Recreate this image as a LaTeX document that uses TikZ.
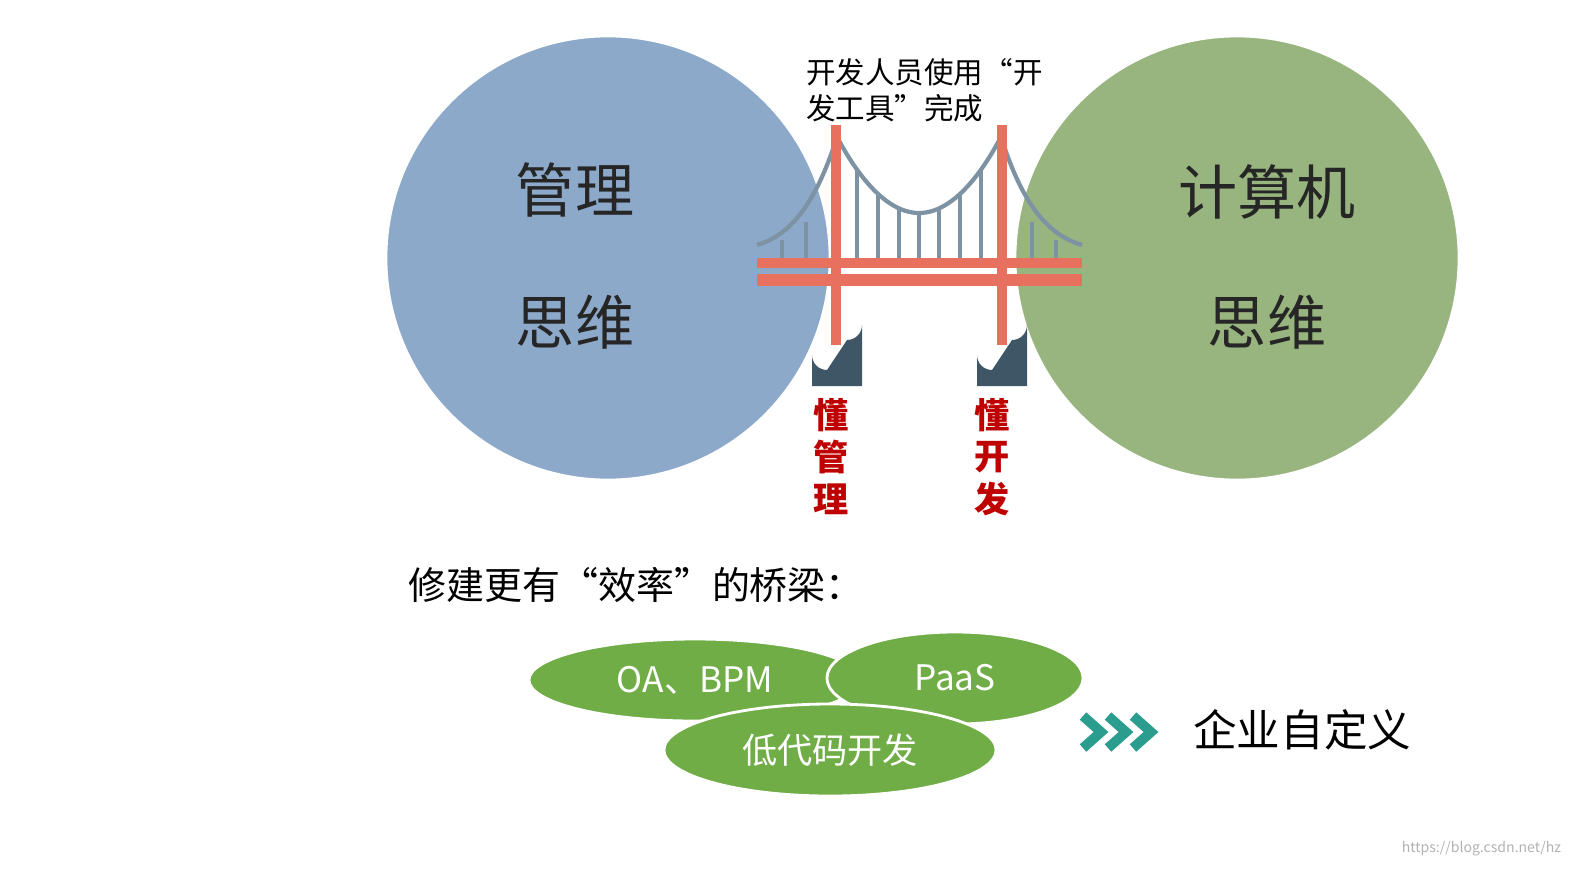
\documentclass[tikz,border=0pt]{standalone}
\usepackage{fontspec}
\setmainfont{Noto Sans CJK SC}
\usetikzlibrary{shapes.geometric,positioning}
\definecolor{mgtblue}{HTML}{8CA9CA}
\definecolor{cmpgreen}{HTML}{98B57F}
\definecolor{towerred}{HTML}{E8705F}
\definecolor{cablegray}{HTML}{7D92A2}
\definecolor{pierdark}{HTML}{3F5667}
\definecolor{leafgreen}{HTML}{70AD47}
\definecolor{chevteal}{HTML}{2A9D8F}
\tikzset{
  bigcircle/.style={circle,draw=white,line width=2pt,minimum size=11.1cm,inner sep=0pt},
  bigtext/.style={font=\fontsize{42}{46}\selectfont,text=black!85},
  leaf/.style={ellipse,draw=white,line width=2pt,fill=leafgreen,text=white,
    font=\fontsize{25}{28}\selectfont},
  vtext/.style={text=red!75!black,font=\bfseries\fontsize{25}{28}\selectfont,
    inner sep=0pt},
  cable/.style={draw=cablegray,line width=3pt},
  tower/.style={draw=towerred,line width=7pt}
}
\begin{document}
\begin{tikzpicture}[x=0.025cm,y=-0.025cm]
\useasboundingbox (0,0) rectangle (1576,871);

% circles
\node[bigcircle,fill=mgtblue] (mgt) at (608,258) {};
\node[bigcircle,fill=cmpgreen] (cmp) at (1237,258) {};
\node[bigtext] (mgt-a) at (575,190) {管理};
\node[bigtext] (mgt-b) at (575,322) {思维};
\node[bigtext] (cmp-a) at (1267,192) {计算机};
\node[bigtext] (cmp-b) at (1267,322) {思维};

% bridge
\draw[cable] (836,135) parabola bend (919,213) (1002,135);
\draw[cable] (836,140) .. controls (815,205) and (790,235) .. (757,245);
\draw[cable] (1002,140) .. controls (1023,205) and (1048,235) .. (1082,245);
\foreach \x in {857,878,899,919,939,960,981}{
  \pgfmathsetmacro\yy{213-((\x-919)/83)^2*78}
  \draw[cable] (\x,\yy) -- (\x,263);
}
\foreach \x/\y in {782/240,806/222,1032/222,1056/240}
  \draw[cable] (\x,\y) -- (\x,263);
\draw[tower] (757,263) -- (1082,263);
\draw[draw=towerred,line width=9pt] (757,280) -- (1082,280);
\draw[tower] (836,125) -- (836,345);
\draw[tower] (1002,125) -- (1002,345);
\fill[pierdark] (812,386) -- (812,355) arc (180:90:15) -- (847,340) arc (90:0:15) -- (862,386) -- cycle;
\fill[pierdark] (977,386) -- (977,355) arc (180:90:15) -- (1012,340) arc (90:0:15) -- (1027,386) -- cycle;

\node[anchor=north west,align=left,font=\fontsize{21}{26}\selectfont,inner sep=0pt] (tool)
  at (806,58) {开发人员使用“开\\发工具”完成};
\node[vtext] (mgt-1) at (831,415) {懂};
\node[vtext] (mgt-2) at (831,457) {管};
\node[vtext] (mgt-3) at (831,499) {理};
\node[vtext] (dev-1) at (992,415) {懂};
\node[vtext] (dev-2) at (992,457) {开};
\node[vtext] (dev-3) at (992,499) {发};

% bottom part
\node[anchor=west,font=\fontsize{27}{30}\selectfont,inner sep=0pt] (title) at (408,585) {修建更有“效率”的桥梁：};
\node[leaf,minimum width=8.3cm,minimum height=2.05cm] (oa) at (695,680) {OA、BPM};
\node[leaf,minimum width=6.4cm,minimum height=2.3cm] (paas) at (955,678) {PaaS};
\node[leaf,minimum width=8.3cm,minimum height=2.3cm] (lowcode) at (830,750) {低代码开发};
\foreach \i in {0,1,2}
  \draw[chevteal,line width=7pt] (1083+\i*25,716) -- (1101+\i*25,732) -- (1083+\i*25,748);
\node[anchor=west,font=\fontsize{31}{34}\selectfont,inner sep=0pt] (custom) at (1193,730) {企业自定义};
\node[anchor=south east,text=black!30,font=\fontsize{10}{12}\selectfont] (mark) at (1566,861) {https://blog.csdn.net/hz};
\end{tikzpicture}
\end{document}
